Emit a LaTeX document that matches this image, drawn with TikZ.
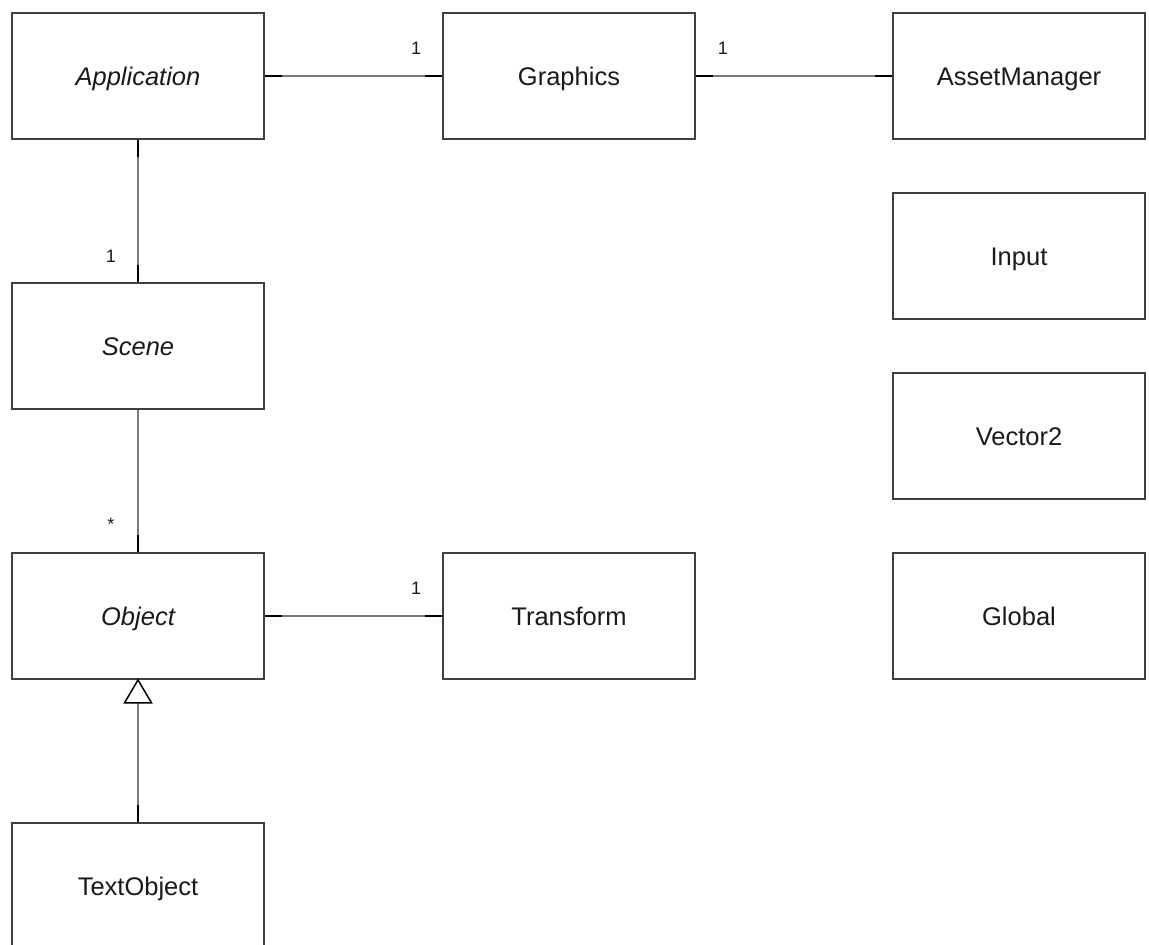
\documentclass[tikz,border=0pt]{standalone}
\usepackage{fontspec}
\setmainfont{Liberation Sans}
\definecolor{boxline}{HTML}{404040}
\definecolor{linkgray}{HTML}{7A7A7A}
\definecolor{txt}{HTML}{1A1A1A}
\tikzset{
  cls/.style={draw=boxline, line width=1.8pt, fill=white, rectangle,
    minimum width=252pt, minimum height=126pt, inner sep=0pt,
    text height=24pt, text depth=6pt,
    text=txt, font=\fontsize{25.5}{28}\selectfont},
  abstract/.style={cls, font=\fontsize{25.5}{28}\selectfont\itshape},
  link/.style={draw=linkgray, line width=2pt},
  linkend/.style={draw=black, line width=2.2pt},
  mult/.style={text=txt, font=\fontsize{18}{20}\selectfont, inner sep=0pt},
  inherit/.style={draw=black, line width=1.5pt, fill=white, line join=miter}
}
\begin{document}
\begin{tikzpicture}[x=1pt, y=-1pt]
\useasboundingbox[fill=white] (0,0) rectangle (1149,945);

% classes
\node[abstract] (app)   at (138,76)   {Application};
\node[cls]      (gfx)   at (569,76)   {Graphics};
\node[cls]      (asset) at (1019,76)  {AssetManager};
\node[cls]      (input) at (1019,256) {Input};
\node[cls]      (vec)   at (1019,436) {Vector2};
\node[cls]      (glob)  at (1019,616) {Global};
\node[abstract] (scene) at (138,346)  {Scene};
\node[abstract] (obj)   at (138,616)  {Object};
\node[cls]      (trans) at (569,616)  {Transform};
\node[cls]      (text)  at (138,886)  {TextObject};

% associations
\draw[link] (app.east) -- (gfx.west);
\draw[linkend] (app.east) -- ++(17,0);
\draw[linkend] (gfx.west) -- ++(-17,0);

\draw[link] (gfx.east) -- (asset.west);
\draw[linkend] (gfx.east) -- ++(17,0);
\draw[linkend] (asset.west) -- ++(-17,0);

\draw[link] (app.south) -- (scene.north);
\draw[linkend] (app.south) -- ++(0,17);
\draw[linkend] (scene.north) -- ++(0,-17);

\draw[link] (scene.south) -- (obj.north);
\draw[linkend] (obj.north) -- ++(0,-17);

\draw[link] (obj.east) -- (trans.west);
\draw[linkend] (obj.east) -- ++(17,0);
\draw[linkend] (trans.west) -- ++(-17,0);

% multiplicities
\node[mult] (m1) at ([shift={(-26,-28)}]gfx.west)   {1};
\node[mult] (m2) at ([shift={(27,-28)}]gfx.east)    {1};
\node[mult] (m3) at ([shift={(-27,-26)}]scene.north) {1};
\node[mult] (m4) at ([shift={(-27,-28)}]obj.north)  {*};
\node[mult] (m5) at ([shift={(-26,-28)}]trans.west) {1};

% generalization
\coordinate (tri) at ([yshift=-23pt]obj.south);
\draw[link] (text.north) -- (tri);
\draw[linkend] (text.north) -- ++(0,-17);
\draw[inherit] (obj.south) -- ([xshift=-13.5pt]tri) -- ([xshift=13.5pt]tri) -- cycle;
\end{tikzpicture}
\end{document}
